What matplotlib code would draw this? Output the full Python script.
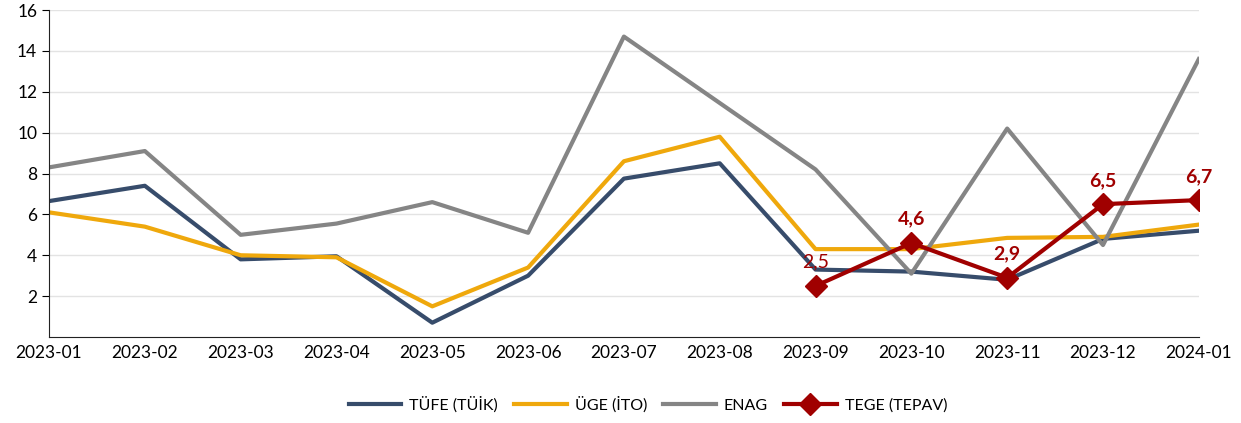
import matplotlib
matplotlib.use("Agg")
import matplotlib.pyplot as plt
import numpy as np

plt.rcParams["font.family"] = ["Lato", "DejaVu Sans"]
plt.rcParams["axes.edgecolor"] = "#222222"

months = ["2023-01", "2023-02", "2023-03", "2023-04", "2023-05", "2023-06", "2023-07",
          "2023-08", "2023-09", "2023-10", "2023-11", "2023-12", "2024-01"]
tufe = [6.65, 7.4, 3.8, 3.95, 0.7, 3.0, 7.75, 8.5, 3.3, 3.2, 2.8, 4.8, 5.2]
uge = [6.1, 5.4, 4.0, 3.9, 1.5, 3.4, 8.6, 9.8, 4.3, 4.3, 4.85, 4.9, 5.5]
enag = [8.3, 9.1, 5.0, 5.55, 6.6, 5.1, 14.7, 11.45, 8.2, 3.1, 10.2, 4.5, 13.6]
tege_months = ["2023-09", "2023-10", "2023-11", "2023-12", "2024-01"]
tege = [2.5, 4.6, 2.9, 6.5, 6.7]
yticks = [2, 4, 6, 8, 10, 12, 14, 16]

x = np.arange(len(months))
xt = np.array([months.index(m) for m in tege_months])

fig = plt.figure(figsize=(12.41, 4.23), dpi=100)
ax = fig.add_axes([0.0395, 0.2033, 0.9265, 0.773])

ax.plot(x, tufe, color="#374C6B", lw=3, label="TÜFE (TÜİK)")
ax.plot(x, uge, color="#EFA80C", lw=3, label="ÜGE (İTO)")
ax.plot(x, enag, color="#858585", lw=3, label="ENAG")
ax.plot(xt, tege, color="#A00000", lw=3, marker="D", ms=11, label="TEGE (TEPAV)")

for i, (xi, v) in enumerate(zip(xt, tege)):
    txt = f"{v:.1f}".replace(".", ",")
    ax.annotate(txt, (xi, v), xytext=(0, 11), textcoords="offset points",
                ha="center", va="bottom", color="#A00000", fontsize=14,
                fontweight="normal" if i == 0 else "bold")

ax.set_xlim(0, 12)
ax.set_ylim(0, 16)
ax.set_yticks(yticks)
ax.set_xticks(x)
ax.set_xticklabels(months)
ax.tick_params(axis="x", length=0, labelsize=12.5, pad=6)
ax.tick_params(axis="y", length=5, labelsize=12.5, direction="out")
ax.grid(axis="y", color="#E3E3E3", lw=1)
ax.set_axisbelow(True)
ax.spines["top"].set_visible(False)
ax.spines["right"].set_visible(False)

fig.legend(loc="lower center", bbox_to_anchor=(0.522, -0.01), ncol=4, frameon=False,
           fontsize=11.5, handlelength=3.3, columnspacing=1.0, handletextpad=0.5)

fig.savefig("out.png", dpi=100)
